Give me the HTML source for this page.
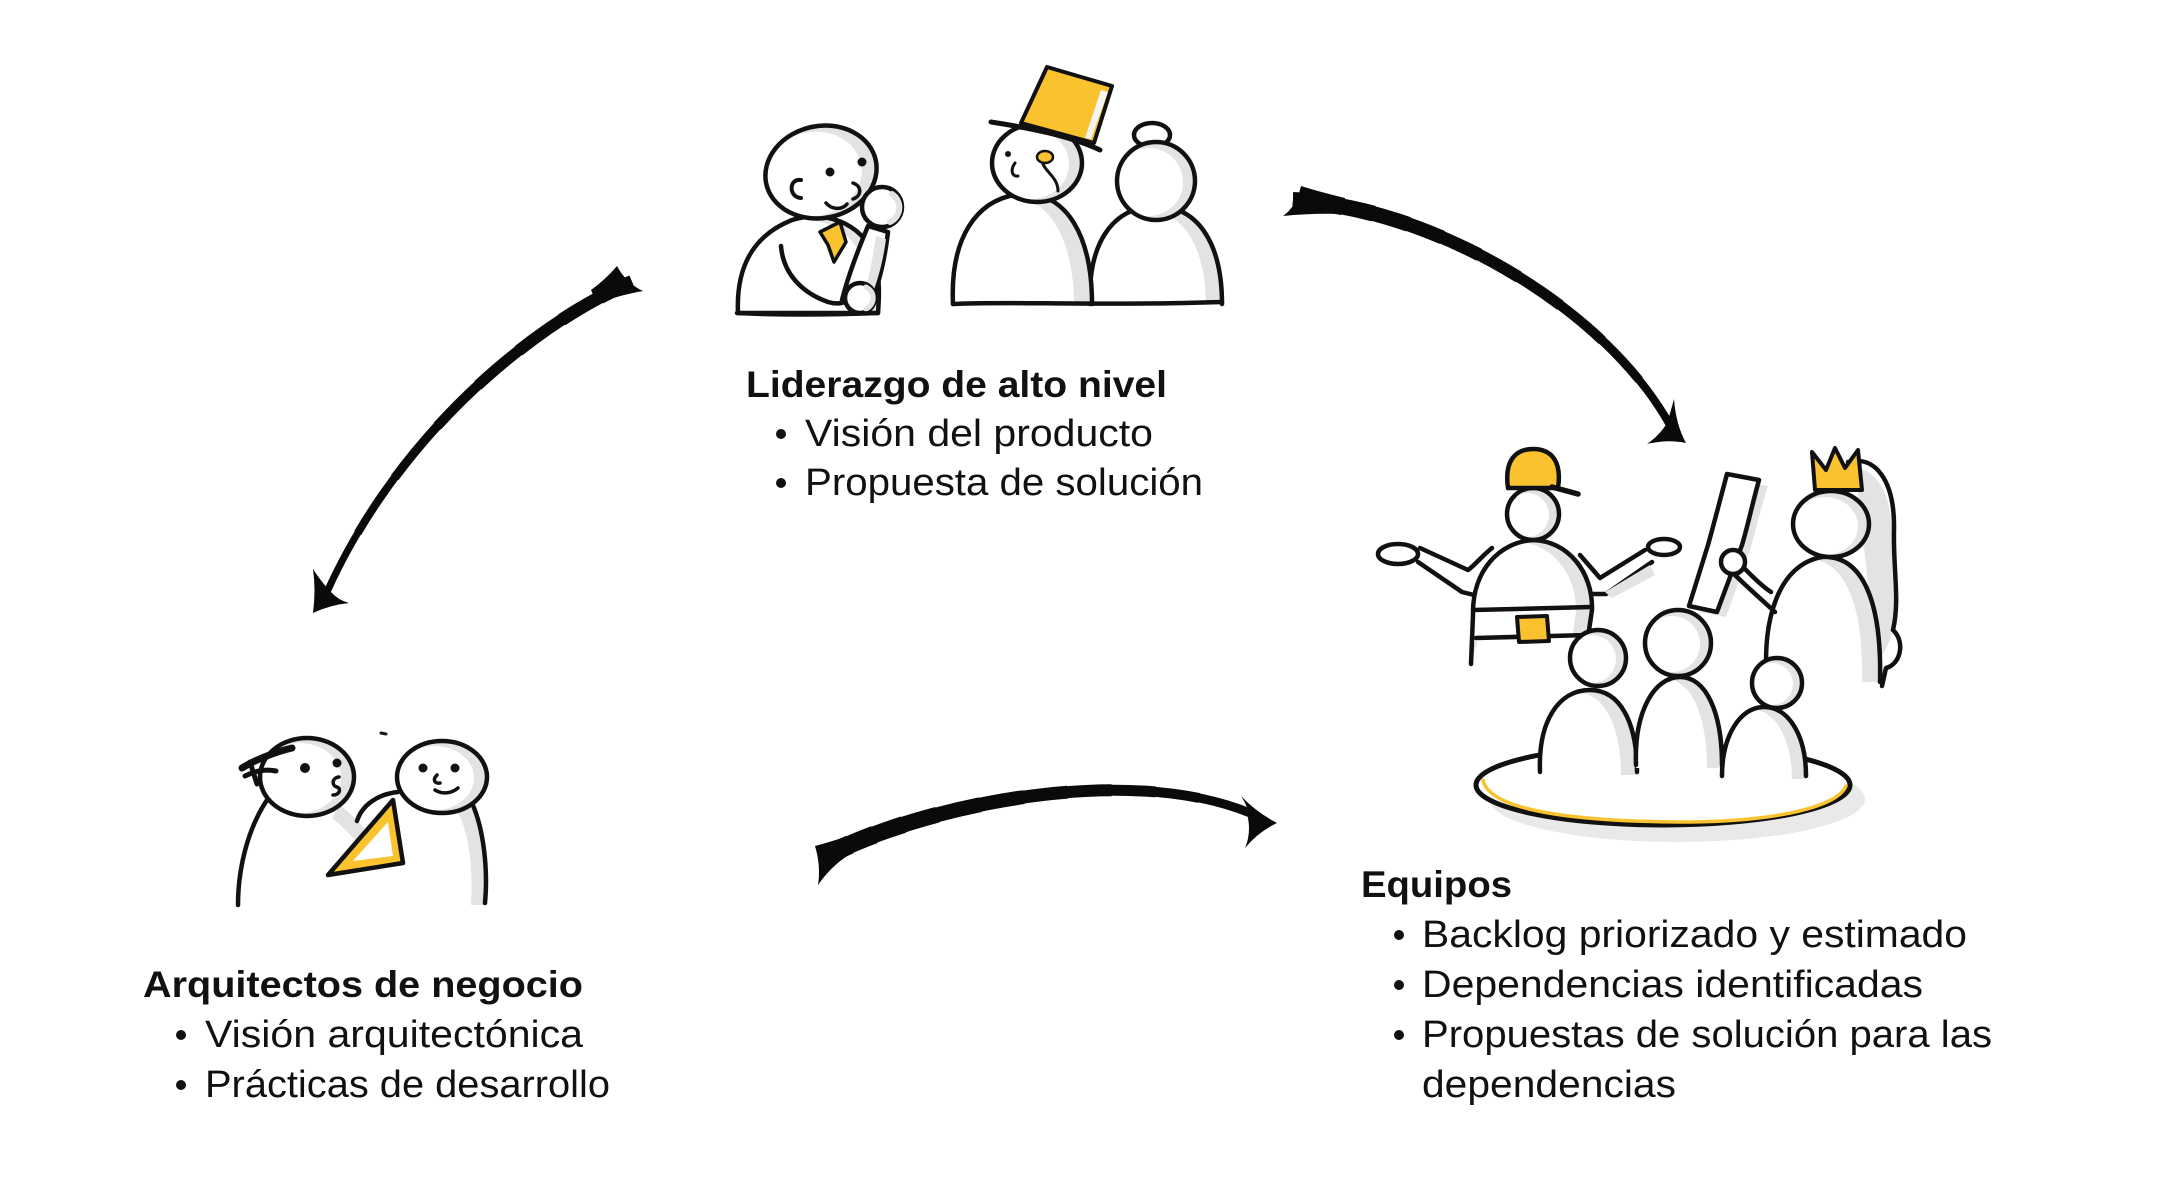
<!DOCTYPE html>
<html>
<head>
<meta charset="utf-8">
<style>
  html, body { margin: 0; padding: 0; background: #ffffff; }
  svg { display: block; }
  .t { font-family: "Liberation Sans", sans-serif; fill: #111; }
</style>
</head>
<body>
<svg width="2160" height="1200" viewBox="0 0 2160 1200" xmlns="http://www.w3.org/2000/svg">
<defs>
  <clipPath id="cAbody"><path d="M738,313 C736,268 752,236 792,220 C830,208 868,228 876,262 C880,282 879,300 878,313 Z"/></clipPath>
  <clipPath id="cBbody"><path d="M953,304 C950,240 975,198 1022,194 C1068,192 1092,238 1092,304 Z"/></clipPath>
  <clipPath id="cCbody"><path d="M1090,304 C1088,246 1110,208 1155,206 C1200,206 1222,246 1222,304 Z"/></clipPath>
  <clipPath id="cCapBody"><path d="M1471,664 L1473,615 C1472,570 1500,542 1533,540 C1568,541 1593,572 1592,610 L1588,637 L1478,640 Z"/></clipPath>
  <clipPath id="cQBody"><path d="M1767,682 C1762,620 1778,565 1822,557 C1862,555 1882,600 1880,682 Z"/></clipPath>
  <clipPath id="cF1"><path d="M1540,775 C1538,722 1558,690 1590,690 C1620,690 1637,722 1637,775 Z"/></clipPath>
  <clipPath id="cF2"><path d="M1636,768 C1634,712 1654,677 1680,677 C1706,677 1722,712 1722,768 Z"/></clipPath>
  <clipPath id="cF3"><path d="M1722,779 C1722,736 1740,707 1764,707 C1789,707 1806,736 1806,779 Z"/></clipPath>
  <path id="a1" d="M632,282 C540,320 400,430 327,592"/>
  <path id="a2" d="M1293,201 C1420,205 1600,300 1670,425"/>
  <path id="a3" d="M822,858 C910,810 1120,760 1250,813"/>
</defs>

<rect x="0" y="0" width="2160" height="1200" fill="#ffffff"/>

<!-- ================= ARROWS ================= -->
<g fill="none" stroke="#0a0a0a" stroke-linecap="butt">
  <!-- Arrow 1 -->
  <path d="M632,282 C540,320 400,430 327,592" stroke-width="7"/>
  <path d="M632,282 C540,320 400,430 327,592" stroke-width="8" pathLength="100" stroke-dasharray="85 300"/>
  <path d="M632,282 C540,320 400,430 327,592" stroke-width="9" pathLength="100" stroke-dasharray="70 300"/>
  <path d="M632,282 C540,320 400,430 327,592" stroke-width="10" pathLength="100" stroke-dasharray="55 300"/>
  <path d="M632,282 C540,320 400,430 327,592" stroke-width="11" pathLength="100" stroke-dasharray="42 300"/>
  <path d="M632,282 C540,320 400,430 327,592" stroke-width="12" pathLength="100" stroke-dasharray="30 300"/>
  <path d="M632,282 C540,320 400,430 327,592" stroke-width="13" pathLength="100" stroke-dasharray="18 300"/>
  <path d="M632,282 C540,320 400,430 327,592" stroke-width="14" pathLength="100" stroke-dasharray="8 300"/>
  <!-- Arrow 2 -->
  <path d="M1293,201 C1420,205 1600,300 1670,425" stroke-width="8"/>
  <path d="M1293,201 C1420,205 1600,300 1670,425" stroke-width="9" pathLength="100" stroke-dasharray="88 300"/>
  <path d="M1293,201 C1420,205 1600,300 1670,425" stroke-width="10" pathLength="100" stroke-dasharray="76 300"/>
  <path d="M1293,201 C1420,205 1600,300 1670,425" stroke-width="11" pathLength="100" stroke-dasharray="64 300"/>
  <path d="M1293,201 C1420,205 1600,300 1670,425" stroke-width="12" pathLength="100" stroke-dasharray="53 300"/>
  <path d="M1293,201 C1420,205 1600,300 1670,425" stroke-width="13" pathLength="100" stroke-dasharray="43 300"/>
  <path d="M1293,201 C1420,205 1600,300 1670,425" stroke-width="14" pathLength="100" stroke-dasharray="34 300"/>
  <path d="M1293,201 C1420,205 1600,300 1670,425" stroke-width="15" pathLength="100" stroke-dasharray="26 300"/>
  <path d="M1293,201 C1420,205 1600,300 1670,425" stroke-width="16" pathLength="100" stroke-dasharray="18 300"/>
  <path d="M1293,201 C1420,205 1600,300 1670,425" stroke-width="17" pathLength="100" stroke-dasharray="11 300"/>
  <path d="M1293,201 C1420,205 1600,300 1670,425" stroke-width="18" pathLength="100" stroke-dasharray="5 300"/>
  <!-- Arrow 3 -->
  <path d="M822,858 C910,810 1120,760 1250,813" stroke-width="9"/>
  <path d="M822,858 C910,810 1120,760 1250,813" stroke-width="10" pathLength="100" stroke-dasharray="88 300"/>
  <path d="M822,858 C910,810 1120,760 1250,813" stroke-width="11" pathLength="100" stroke-dasharray="78 300"/>
  <path d="M822,858 C910,810 1120,760 1250,813" stroke-width="12" pathLength="100" stroke-dasharray="68 300"/>
  <path d="M822,858 C910,810 1120,760 1250,813" stroke-width="13" pathLength="100" stroke-dasharray="58 300"/>
  <path d="M822,858 C910,810 1120,760 1250,813" stroke-width="14" pathLength="100" stroke-dasharray="48 300"/>
  <path d="M822,858 C910,810 1120,760 1250,813" stroke-width="15" pathLength="100" stroke-dasharray="38 300"/>
  <path d="M822,858 C910,810 1120,760 1250,813" stroke-width="16" pathLength="100" stroke-dasharray="28 300"/>
  <path d="M822,858 C910,810 1120,760 1250,813" stroke-width="17" pathLength="100" stroke-dasharray="20 300"/>
  <path d="M822,858 C910,810 1120,760 1250,813" stroke-width="18" pathLength="100" stroke-dasharray="13 300"/>
  <path d="M822,858 C910,810 1120,760 1250,813" stroke-width="19" pathLength="100" stroke-dasharray="7 300"/>
  <path d="M822,858 C910,810 1120,760 1250,813" stroke-width="20" pathLength="100" stroke-dasharray="3 300"/>
</g>
<g fill="#0a0a0a">
  <!-- tails -->
  <path d="M617,266 Q626,283 643,291 Q615,296 597,304 L591,290 Q605,280 617,266 Z"/>
  <path d="M1301,186 Q1296,207 1283,216 Q1310,213 1345,214 L1345,198 Q1320,192 1301,186 Z"/>
  <path d="M815,846 Q821,866 818,885 Q834,862 856,851 L848,836 Q830,842 815,846 Z"/>
  <!-- heads -->
  <path d="M313,613 Q316,590 313,569 Q322,583 331,592 Q338,600 349,603 Q330,605 313,613 Z"/>
  <path d="M1686,443 Q1676,425 1674,399 Q1670,414 1667,423 Q1660,435 1647,444 Q1668,439 1686,443 Z"/>
  <path d="M1277,823 Q1256,812 1241,796 Q1250,810 1248,818 Q1251,834 1245,848 Q1258,832 1277,823 Z"/>
</g>

<!-- ================= TOP: LIDERAZGO FIGURES ================= -->
<g stroke="#111" stroke-width="4.5" stroke-linecap="round" stroke-linejoin="round">
  <!-- Figure A body -->
  <g clip-path="url(#cAbody)" stroke="none">
    <rect x="730" y="200" width="160" height="120" fill="#e3e3e3"/>
    <path d="M738,313 C736,268 752,236 792,220 C830,208 868,228 876,262 C880,282 879,300 878,313 Z" fill="#fff" transform="translate(-12,3)"/>
  </g>
  <path d="M738,313 C736,268 752,236 792,220 C830,208 868,228 876,262 C880,282 879,300 878,313 Z" fill="none"/>
  <!-- inner arm -->
  <path d="M781,246 C783,272 800,292 828,302 C838,305 846,303 850,298" fill="none"/>
  <!-- forearm -->
  <path d="M842,300 C848,276 858,250 868,226 L888,232 C885,258 879,284 870,305 Z" fill="#fff"/>
  <path d="M876,236 L886,239 C883,262 877,284 869,302 L862,300 C868,282 873,258 876,236 Z" fill="#e3e3e3" stroke="none"/>
  <!-- tie -->
  <path d="M820,232 L840,222 L846,242 L834,262 L828,245 Z" fill="#f9c22e" stroke-width="3.5"/>
  <!-- knee -->
  <circle cx="860" cy="298" r="15" fill="#fff"/>
  <path d="M866,287 A12,12 0 0 1 866,309" fill="none" stroke="#e3e3e3" stroke-width="5"/>
  <!-- head A -->
  <ellipse cx="821" cy="172" rx="56" ry="46" transform="rotate(-12 821 172)" fill="#e3e3e3" stroke="none"/>
  <ellipse cx="813" cy="174" rx="49" ry="42" transform="rotate(-12 813 174)" fill="#fff" stroke="none"/>
  <ellipse cx="821" cy="172" rx="56" ry="46" transform="rotate(-12 821 172)" fill="none"/>
  <path d="M801,180 C789,178 788,197 801,198" fill="none" stroke-width="4"/>
  <circle cx="830" cy="172" r="4.5" fill="#111" stroke="none"/>
  <circle cx="862" cy="162" r="4.5" fill="#111" stroke="none"/>
  <path d="M853,183 C862,186 862,196 853,199" fill="none" stroke-width="3.5"/>
  <path d="M826,203 C832,210 842,210 847,204" fill="none" stroke-width="3.5"/>
  <!-- mic / hand -->
  <circle cx="882" cy="207" r="20" fill="#fff"/>
  <path d="M892,194 A16,16 0 0 1 890,222" fill="none" stroke="#e3e3e3" stroke-width="6"/>

  <!-- Figure C bun -->
  <ellipse cx="1152" cy="135" rx="18" ry="12" fill="#fff"/>
  <!-- Figure C body -->
  <g clip-path="url(#cCbody)" stroke="none">
    <rect x="1085" y="200" width="145" height="110" fill="#e3e3e3"/>
    <path d="M1090,304 C1088,246 1110,208 1155,206 C1200,206 1222,246 1222,304 Z" fill="#fff" transform="translate(-16,2)"/>
  </g>
  <path d="M1090,304 C1088,246 1110,208 1155,206 C1200,206 1222,246 1222,304" fill="none"/>
  <!-- Figure C head -->
  <circle cx="1156" cy="181" r="39" fill="#e3e3e3" stroke="none"/>
  <circle cx="1149" cy="182" r="34" fill="#fff" stroke="none"/>
  <circle cx="1156" cy="181" r="39" fill="none"/>

  <!-- Figure B body -->
  <g clip-path="url(#cBbody)" stroke="none">
    <rect x="945" y="190" width="155" height="120" fill="#e3e3e3"/>
    <path d="M953,304 C950,240 975,198 1022,194 C1068,192 1092,238 1092,304 Z" fill="#fff" transform="translate(-18,2)"/>
  </g>
  <path d="M953,304 C950,240 975,198 1022,194 C1068,192 1092,238 1092,304" fill="none"/>
  <!-- bottom line B-C -->
  <path d="M953,304 C1000,301 1100,306 1222,302" fill="none"/>
  <!-- Figure B head -->
  <ellipse cx="1037" cy="163" rx="45" ry="39" fill="#e3e3e3" stroke="none"/>
  <ellipse cx="1030" cy="164" rx="39" ry="35" fill="#fff" stroke="none"/>
  <ellipse cx="1037" cy="163" rx="45" ry="39" fill="none"/>
  <!-- hat -->
  <path d="M1047,67 L1112,86 L1094,143 L1021,123 Z" fill="#f9c22e" stroke-width="4"/>
  <path d="M1101,90 L1108,92 L1091,139 L1085,138 Z" fill="#f4f4f4" stroke="none"/>
  <path d="M991,122 C1030,128 1070,136 1100,150" fill="none" stroke-width="5"/>
  <!-- face B -->
  <ellipse cx="1045" cy="157" rx="8" ry="6" fill="#f9c22e" stroke-width="2.5"/>
  <circle cx="1008" cy="154" r="3" fill="#111" stroke="none"/>
  <path d="M1015,163 C1010,170 1012,177 1018,176" fill="none" stroke-width="3"/>
  <path d="M1043,164 C1046,172 1058,178 1058,191" fill="none" stroke-width="3"/>

  <!-- Figure A bottom line -->
  <path d="M737,313 Q800,316 878,313" fill="none"/>
</g>

<!-- ================= LEFT: ARQUITECTOS FIGURES ================= -->
<g stroke="#111" stroke-width="4.5" stroke-linecap="round" stroke-linejoin="round">
  <path d="M455,808 C470,830 473,870 471,905 L485,905 C488,870 484,830 471,804 Z" fill="#e3e3e3" stroke="none"/>
  <path d="M340,805 C352,815 366,828 372,840 L362,848 C352,836 342,826 332,818 Z" fill="#e3e3e3" stroke="none"/>
  <path d="M267,800 C247,830 238,870 238,905" fill="none"/>
  <ellipse cx="307" cy="777" rx="47" ry="39" fill="#e3e3e3" stroke="none"/>
  <ellipse cx="300" cy="778" rx="41" ry="35" fill="#fff" stroke="none"/>
  <ellipse cx="307" cy="777" rx="47" ry="39" fill="none"/>
  <path d="M242,768 C255,760 275,752 292,748" fill="none" stroke-width="7"/>
  <path d="M245,776 C255,771 266,769 276,771" fill="none" stroke-width="5"/>
  <path d="M250,762 L257,784" fill="none" stroke-width="5"/>
  <circle cx="305" cy="768" r="5" fill="#111" stroke="none"/>
  <circle cx="337" cy="763" r="4.5" fill="#111" stroke="none"/>
  <path d="M339,777 C331,778 332,786 337,787 C342,789 339,795 333,795" fill="none" stroke-width="3.5"/>
  <path d="M472,803 C484,830 488,870 485,903" fill="none"/>
  <ellipse cx="442" cy="777" rx="45" ry="36" fill="#e3e3e3" stroke="none"/>
  <ellipse cx="435" cy="778" rx="39" ry="32" fill="#fff" stroke="none"/>
  <ellipse cx="442" cy="777" rx="45" ry="36" fill="none"/>
  <circle cx="423" cy="768" r="4.5" fill="#111" stroke="none"/>
  <circle cx="455" cy="768" r="4.5" fill="#111" stroke="none"/>
  <path d="M437,775 C432,780 435,784 440,783" fill="none" stroke-width="3.5"/>
  <path d="M435,790 C443,795 452,793 458,788" fill="none" stroke-width="3.5"/>
  <path d="M357,821 C362,805 378,794 398,792" fill="none"/>
  <path d="M328,875 L393,800 L403,863 Z" fill="#f9c22e"/>
  <path d="M353,861 L388,822 L393,856 Z" fill="#fff" stroke="none"/>
  <path d="M381,733 L386,734" fill="none" stroke-width="3"/>
</g>

<!-- ================= RIGHT: EQUIPOS FIGURES ================= -->
<g stroke="#111" stroke-width="4.5" stroke-linecap="round" stroke-linejoin="round">
  <path d="M1492,548 C1482,556 1474,566 1468,570 L1420,548" fill="none"/>
  <path d="M1478,596 L1462,592 L1418,562" fill="none"/>
  <ellipse cx="1398" cy="554" rx="20" ry="10" fill="#fff"/>
  <path d="M1580,555 L1600,578 L1645,550" fill="none"/>
  <path d="M1588,594 L1606,594 L1652,562" fill="none"/>
  <path d="M1605,592 L1650,565 L1655,575 L1612,598 Z" fill="#e3e3e3" stroke="none"/>
  <ellipse cx="1664" cy="547" rx="16" ry="8" fill="#fff"/>
  <g clip-path="url(#cCapBody)" stroke="none">
    <rect x="1465" y="535" width="135" height="135" fill="#e3e3e3"/>
    <path d="M1471,664 L1473,615 C1472,570 1500,542 1533,540 C1568,541 1593,572 1592,610 L1588,637 L1478,640 Z" fill="#fff" transform="translate(-16,2)"/>
  </g>
  <path d="M1471,664 L1473,615 C1472,570 1500,542 1533,540 C1568,541 1593,572 1592,610 L1588,637" fill="none"/>
  <path d="M1474,610 L1591,607" fill="none"/>
  <path d="M1476,638 L1588,635" fill="none"/>
  <path d="M1517,617 L1547,616 L1549,641 L1519,642 Z" fill="#f9c22e" stroke-width="4"/>
  <circle cx="1533" cy="514" r="26" fill="#e3e3e3" stroke="none"/>
  <circle cx="1527" cy="515" r="22" fill="#fff" stroke="none"/>
  <circle cx="1533" cy="514" r="26" fill="none"/>
  <path d="M1508,488 C1504,460 1516,449 1533,449 C1552,449 1562,462 1558,488 Z" fill="#f9c22e"/>
  <path d="M1552,487 L1578,494" fill="none" stroke-width="5.5"/>

  <path d="M1855,468 C1880,470 1893,500 1892,540 C1891,580 1898,610 1890,640 L1880,660 L1870,600 Z" fill="#e3e3e3" stroke="none"/>
  <path d="M1848,462 C1875,455 1895,480 1894,530 C1893,570 1900,600 1893,630 C1906,642 1900,665 1886,668 L1882,686" fill="none"/>
  <path d="M1737,480 L1768,486 C1760,510 1756,530 1750,550 L1726,617 L1700,612 Z" fill="#e3e3e3" stroke="none"/>
  <path d="M1727,474 L1759,480 C1752,505 1748,525 1742,545 L1717,612 L1689,606 L1708,545 C1715,520 1720,500 1727,474 Z" fill="#fff"/>
  <g clip-path="url(#cQBody)" stroke="none">
    <rect x="1760" y="550" width="130" height="140" fill="#e3e3e3"/>
    <path d="M1767,682 C1762,620 1778,565 1822,557 C1862,555 1882,600 1880,682 Z" fill="#fff" transform="translate(-18,2)"/>
  </g>
  <path d="M1767,682 C1762,620 1778,565 1822,557 C1862,555 1882,600 1880,682" fill="none"/>
  <path d="M1771,592 C1760,585 1748,572 1742,566" fill="none"/>
  <path d="M1775,612 C1762,600 1745,585 1735,575" fill="none"/>
  <circle cx="1733" cy="562" r="12" fill="#fff"/>
  <ellipse cx="1831" cy="524" rx="38" ry="33" fill="#e3e3e3" stroke="none"/>
  <ellipse cx="1825" cy="526" rx="33" ry="29" fill="#fff" stroke="none"/>
  <ellipse cx="1831" cy="524" rx="38" ry="33" fill="none"/>
  <path d="M1815,490 L1812,452 L1826,470 L1835,448 L1845,468 L1858,450 L1862,490 Z" fill="#f9c22e" stroke-width="4"/>

  <ellipse cx="1677" cy="799" rx="188" ry="43" fill="#e9e9e9" stroke="none"/>
  <ellipse cx="1663" cy="785" rx="187" ry="40" fill="#fff" stroke-width="5"/>
  <path d="M1483,780 C1490,815 1600,822 1690,822 C1780,821 1838,806 1846,786" fill="none" stroke="#f9c22e" stroke-width="3.5"/>

  <g clip-path="url(#cF1)" stroke="none">
    <rect x="1535" y="685" width="110" height="95" fill="#e3e3e3"/>
    <path d="M1540,775 C1538,722 1558,690 1590,690 C1620,690 1637,722 1637,775 Z" fill="#fff" transform="translate(-16,2)"/>
  </g>
  <path d="M1540,772 C1538,722 1558,690 1590,690 C1620,690 1637,722 1637,772" fill="none"/>
  <g clip-path="url(#cF2)" stroke="none">
    <rect x="1630" y="672" width="100" height="100" fill="#e3e3e3"/>
    <path d="M1636,768 C1634,712 1654,677 1680,677 C1706,677 1722,712 1722,768 Z" fill="#fff" transform="translate(-15,2)"/>
  </g>
  <path d="M1636,765 C1634,712 1654,677 1680,677 C1706,677 1722,712 1722,765" fill="none"/>
  <g clip-path="url(#cF3)" stroke="none">
    <rect x="1718" y="702" width="95" height="80" fill="#e3e3e3"/>
    <path d="M1722,779 C1722,736 1740,707 1764,707 C1789,707 1806,736 1806,779 Z" fill="#fff" transform="translate(-14,2)"/>
  </g>
  <path d="M1722,776 C1722,736 1740,707 1764,707 C1789,707 1806,736 1806,776" fill="none"/>
  <circle cx="1598" cy="658" r="28" fill="#e3e3e3" stroke="none"/>
  <circle cx="1592" cy="659" r="24" fill="#fff" stroke="none"/>
  <circle cx="1598" cy="658" r="28" fill="none"/>
  <circle cx="1678" cy="643" r="33" fill="#e3e3e3" stroke="none"/>
  <circle cx="1672" cy="644" r="28" fill="#fff" stroke="none"/>
  <circle cx="1678" cy="643" r="33" fill="none"/>
  <circle cx="1777" cy="683" r="25" fill="#e3e3e3" stroke="none"/>
  <circle cx="1772" cy="684" r="21" fill="#fff" stroke="none"/>
  <circle cx="1777" cy="683" r="25" fill="none"/>
</g>

<!-- ================= TEXT ================= -->
<text class="t" x="746" y="397" font-size="37" font-weight="bold" textLength="421" lengthAdjust="spacingAndGlyphs">Liderazgo de alto nivel</text>
<circle cx="781" cy="434" r="5" fill="#111"/>
<text class="t" x="805" y="446" font-size="38" textLength="348" lengthAdjust="spacingAndGlyphs">Visión del producto</text>
<circle cx="781" cy="483" r="5" fill="#111"/>
<text class="t" x="805" y="495" font-size="38" textLength="398" lengthAdjust="spacingAndGlyphs">Propuesta de solución</text>

<text class="t" x="143" y="997" font-size="37" font-weight="bold" textLength="440" lengthAdjust="spacingAndGlyphs">Arquitectos de negocio</text>
<circle cx="181" cy="1035" r="5" fill="#111"/>
<text class="t" x="205" y="1047" font-size="38" textLength="378" lengthAdjust="spacingAndGlyphs">Visión arquitectónica</text>
<circle cx="181" cy="1085" r="5" fill="#111"/>
<text class="t" x="205" y="1097" font-size="38" textLength="405" lengthAdjust="spacingAndGlyphs">Prácticas de desarrollo</text>

<text class="t" x="1361" y="897" font-size="37" font-weight="bold" textLength="151" lengthAdjust="spacingAndGlyphs">Equipos</text>
<circle cx="1399" cy="935" r="5" fill="#111"/>
<text class="t" x="1422" y="947" font-size="38" textLength="545" lengthAdjust="spacingAndGlyphs">Backlog priorizado y estimado</text>
<circle cx="1399" cy="985" r="5" fill="#111"/>
<text class="t" x="1422" y="997" font-size="38" textLength="501" lengthAdjust="spacingAndGlyphs">Dependencias identificadas</text>
<circle cx="1399" cy="1035" r="5" fill="#111"/>
<text class="t" x="1422" y="1047" font-size="38" textLength="570" lengthAdjust="spacingAndGlyphs">Propuestas de solución para las</text>
<text class="t" x="1422" y="1097" font-size="38" textLength="254" lengthAdjust="spacingAndGlyphs">dependencias</text>
</svg>
</body>
</html>
